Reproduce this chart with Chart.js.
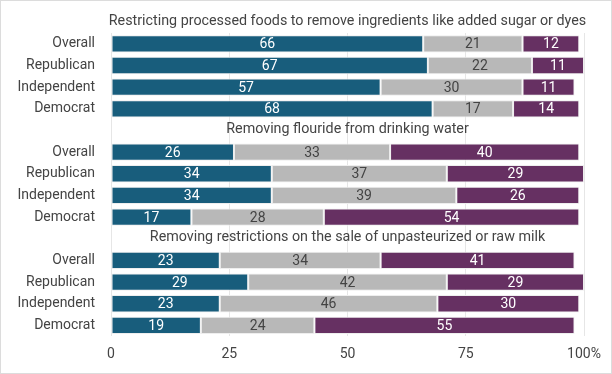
<!doctype html>
<html>

<head>
    <script src="https://cdn.jsdelivr.net/npm/chart.js"></script>
    <style>
        body {
            margin: 0;
            background-color: white;
        }

        .wrap {
            width: 610px;
            height: 372px;
            border: 1px solid #dcdcdc;
        }
    </style>
</head>

<body>
    <div class="wrap"><canvas id="chart" width="610" height="372"></canvas></div>
    <script>
        // rows: a title row, then four groups, repeated three times
        const rowLabels = [
            '', 'Overall', 'Republican', 'Independent', 'Democrat',
            '', 'Overall', 'Republican', 'Independent', 'Democrat',
            '', 'Overall', 'Republican', 'Independent', 'Democrat'
        ]
        const sectionTitles = {
            0: 'Restricting processed foods to remove ingredients like added sugar or dyes',
            5: 'Removing flouride from drinking water',
            10: 'Removing restrictions on the sale of unpasteurized or raw milk'
        }
        const support = [null, 66, 67, 57, 68, null, 26, 34, 34, 17, null, 23, 29, 23, 19]
        const neutral = [null, 21, 22, 30, 17, null, 33, 37, 39, 28, null, 34, 42, 46, 24]
        const oppose = [null, 12, 11, 11, 14, null, 40, 29, 26, 54, null, 41, 29, 30, 55]
        const xTicks = [0, 25, 50, 75, 100]

        const font = 'Roboto'
        const textColor = '#444'

        const titlesPlugin = {
            id: 'sectionTitles',
            afterDraw(chart) {
                const ctx = chart.ctx
                const y = chart.scales.y
                const area = chart.chartArea
                ctx.save()
                ctx.font = `14.3px ${font}`
                ctx.fillStyle = textColor
                ctx.textAlign = 'center'
                ctx.textBaseline = 'middle'
                Object.keys(sectionTitles).forEach(i => {
                    ctx.fillText(sectionTitles[i], (area.left + area.right) / 2, y.getPixelForValue(Number(i)) - 1)
                })
                ctx.restore()
            }
        }

        const valuesPlugin = {
            id: 'barValues',
            afterDatasetsDraw(chart) {
                const ctx = chart.ctx
                ctx.save()
                ctx.font = `14px ${font}`
                ctx.textAlign = 'center'
                ctx.textBaseline = 'middle'
                chart.data.datasets.forEach((ds, di) => {
                    chart.getDatasetMeta(di).data.forEach((bar, i) => {
                        const v = ds.data[i]
                        if (v === null) return
                        ctx.fillStyle = ds.labelColor
                        const cx = (bar.x + bar.base) / 2
                        ctx.fillText(v, cx, bar.y + 1)
                    })
                })
                ctx.restore()
            }
        }

        new Chart(document.getElementById('chart'), {
            type: 'bar',
            data: {
                labels: rowLabels,
                datasets: [
                    { label: 'Support', data: support, backgroundColor: '#185d7c', labelColor: '#ffffff' },
                    { label: 'Neutral', data: neutral, backgroundColor: '#b8b8b8', labelColor: '#444444' },
                    { label: 'Oppose', data: oppose, backgroundColor: '#663062', labelColor: '#ffffff' }
                ]
            },
            options: {
                indexAxis: 'y',
                responsive: false,
                animation: false,
                datasets: {
                    bar: {
                        categoryPercentage: 1,
                        barPercentage: 0.8,
                        borderColor: '#eeeeee',
                        borderWidth: 1,
                        borderSkipped: false
                    }
                },
                layout: { padding: { top: 32, right: 27, bottom: 0, left: 0 } },
                scales: {
                    x: {
                        stacked: true,
                        min: 0,
                        max: 100,
                        afterBuildTicks: scale => { scale.ticks = xTicks.map(v => ({ value: v })) },
                        grid: { color: '#e6e6e6', drawTicks: false },
                        border: { display: false },
                        ticks: {
                            padding: 10,
                            color: textColor,
                            font: { family: font, size: 14 },
                            callback: v => v === 100 ? '100%' : v
                        }
                    },
                    y: {
                        stacked: true,
                        min: 1,
                        max: 14,
                        afterFit: scale => { scale.width = 110 },
                        grid: { display: false },
                        border: { display: false },
                        ticks: {
                            padding: 8,
                            color: textColor,
                            font: { family: font, size: 14 }
                        }
                    }
                },
                plugins: {
                    legend: { display: false },
                    tooltip: { enabled: false }
                }
            },
            plugins: [titlesPlugin, valuesPlugin]
        })
    </script>
</body>

</html>
